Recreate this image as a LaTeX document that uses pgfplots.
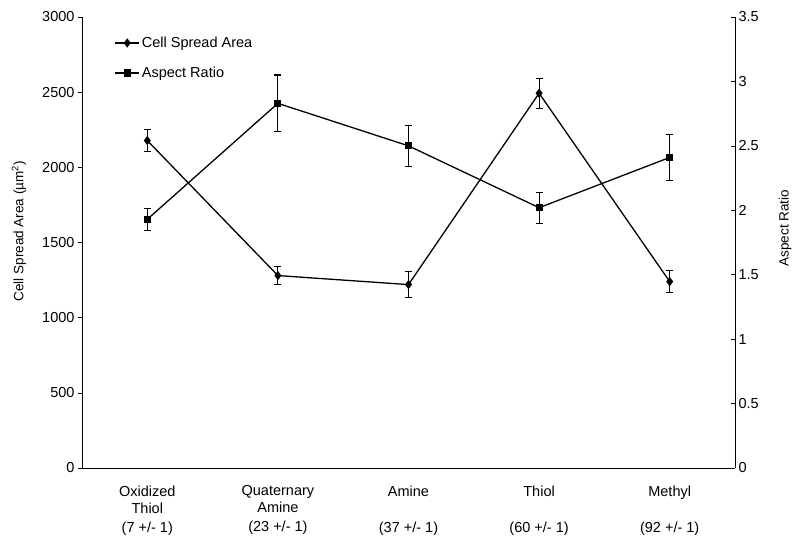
\documentclass[border=0pt]{standalone}
\usepackage{pgfplots}
\pgfplotsset{compat=1.18}
\usepackage{fontspec}
\setmainfont{Liberation Sans}
\begin{document}
\begin{tikzpicture}[x=1pt,y=1pt]
\path[use as bounding box] (-82,-78) rectangle (718,468);
\pgfplotsset{
  common/.style={
    scale only axis, width=653pt, height=451pt, at={(0,0)}, anchor=south west,
    xmin=-0.5, xmax=4.5, xtick={0,1,2,3,4},
    ticklabel style={font=\fontsize{14.5}{17}\selectfont},
    /pgf/number format/assume math mode=true,
    /pgf/number format/set thousands separator={},
    axis line style={black, line width=0.8pt},
    tick style={black, line width=0.6pt},
    major tick length=4pt,
    clip=false,
  },
  ebar/.style={error bars/.cd, y dir=both, y explicit,
    error bar style={line width=1.1pt, black},
    error mark options={rotate=90, mark size=3.5pt, line width=1.1pt, black}},
}
\begin{axis}[common,
  axis y line*=left, axis x line*=bottom,
  ymin=0, ymax=3000, ytick={0,500,...,3000},
  tick align=outside,
  x tick style={draw=none},
  xticklabel style={align=center, yshift=-10pt},
  xticklabels={{Oxidized\\Thiol\\[2pt](7 +/- 1)},{Quaternary\\Amine\\[2pt](23 +/- 1)},{Amine\\\mbox{}\\[2pt](37 +/- 1)},{Thiol\\\mbox{}\\[2pt](60 +/- 1)},{Methyl\\\mbox{}\\[2pt](92 +/- 1)}},
  ylabel={Cell Spread Area (µm\textsuperscript{2})},
  ylabel style={at={(axis description cs:-0.0965,0.525)}, anchor=center, font=\fontsize{13.5}{15}\selectfont},
  legend style={draw=none, fill=none, at={(0.045,0.965)}, anchor=north west,
    font=\fontsize{14.5}{17}\selectfont, row sep=14pt},
  legend cell align=left,
  legend image code/.code={\draw[mark repeat=2,mark phase=2,#1] plot coordinates {(0pt,0pt)(12pt,0pt)(24pt,0pt)};},
]
\addplot[black, line width=1.3pt, mark=diamond*, mark size=3.6pt, mark options={solid}, ebar]
  coordinates {(0,2178) +- (0,75) (1,1280) +- (0,62) (2,1220) +- (0,85) (3,2493) +- (0,100) (4,1240) +- (0,75)};
\addlegendentry{Cell Spread Area}
\addlegendimage{black, line width=1.3pt, mark=square*, mark size=2.9pt}
\addlegendentry{Aspect Ratio}
\end{axis}
\begin{axis}[common,
  axis y line*=right, axis x line=none,
  ymin=0, ymax=3.5, ytick={0,0.5,...,3.5},
  tick align=inside,
  yticklabel style={/pgf/number format/.cd, fixed, precision=1},
  ylabel={Aspect Ratio},
  ylabel style={at={(axis description cs:1.0766,0.532)}, anchor=center, font=\fontsize{13.5}{15}\selectfont},
]
\addplot[black, line width=1.3pt, mark=square*, mark size=2.9pt, ebar]
  coordinates {(0,1.93) +- (0,0.087) (1,2.83) +- (0,0.22) (2,2.50) +- (0,0.16) (3,2.02) +- (0,0.12) (4,2.41) +- (0,0.18)};
\end{axis}
\end{tikzpicture}
\end{document}
